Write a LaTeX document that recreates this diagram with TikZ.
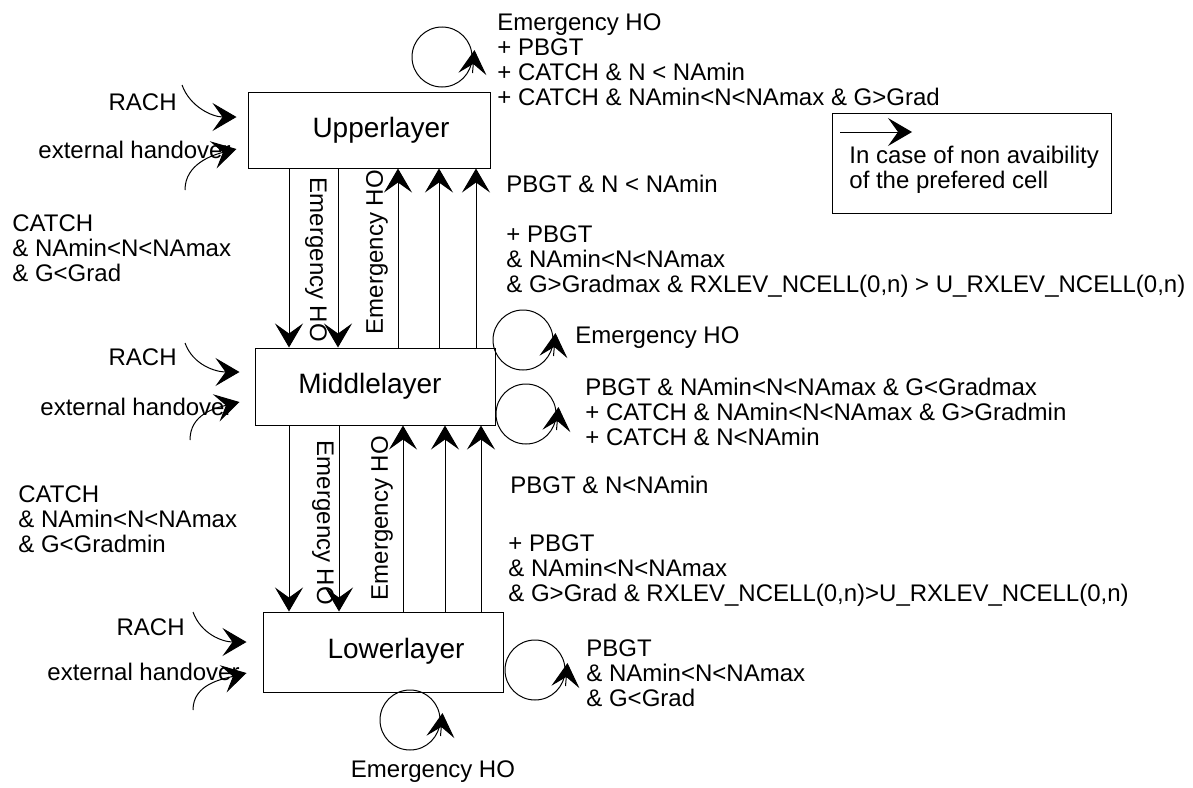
\documentclass[tikz,border=0pt]{standalone}
\usepackage{fontspec}
\setmainfont{Liberation Sans}
\usetikzlibrary{arrows.meta,calc}

\begin{document}
\begin{tikzpicture}[x=0.5pt, y=-0.5pt,
  every node/.style={font=\fontsize{12}{12.5}\selectfont, inner sep=0pt},
  layer/.style={draw, line width=0.5pt},
  lyrtext/.style={font=\fontsize{14}{16}\selectfont},
  cond/.style={anchor=west, align=left},
  loopc/.style={draw, circle, line width=0.5pt, minimum size=30pt},
  flow/.style={-{Stealth[length=12pt,width=14pt,inset=5pt]}, line width=0.5pt}]
\useasboundingbox (0,0) rectangle (1193,787);

% layers
\node[layer, minimum width=121pt, minimum height=38pt] (upper) at (369,130) {};
\node[layer, minimum width=120pt, minimum height=38.5pt] (middle) at (375,386.5) {};
\node[layer, minimum width=120pt, minimum height=40pt] (lower) at (383,652) {};
\node[lyrtext] (upperTxt) at (381,130) {Upperlayer};
\node[lyrtext] (middleTxt) at (370,386) {Middlelayer};
\node[lyrtext] (lowerTxt) at (396,651) {Lowerlayer};

% vertical handovers
\coordinate (dn1) at (289,0); \coordinate (dn2) at (338,0);
\coordinate (up1) at (398,0); \coordinate (up2) at (439,0); \coordinate (up3) at (476,0);
\coordinate (dl1) at (289,0); \coordinate (dl2) at (339,0);
\coordinate (ul1) at (403,0); \coordinate (ul2) at (445,0); \coordinate (ul3) at (481,0);
\foreach \c in {dn1,dn2} \draw[flow] (upper.south -| \c) -- (middle.north -| \c);
\foreach \c in {up1,up2,up3} \draw[flow] (middle.north -| \c) -- (upper.south -| \c);
\foreach \c in {dl1,dl2} \draw[flow] (middle.south -| \c) -- (lower.north -| \c);
\foreach \c in {ul1,ul2,ul3} \draw[flow] (lower.north -| \c) -- (middle.south -| \c);
\node[rotate=-90] (ehoDnA) at (316,260) {Emergency HO};
\node[rotate=90] (ehoUpA) at (377,252) {Emergency HO};
\node[rotate=-90] (ehoDnB) at (323,523) {Emergency HO};
\node[rotate=90] (ehoUpB) at (382,518) {Emergency HO};

% loops
\node[loopc] (upLoop) at (442,57) {};
\node[loopc] (midLoopA) at (523,340) {};
\node[loopc] (midLoopB) at (526,414) {};
\node[loopc] (lowLoopA) at (535,670) {};
\node[loopc] (lowLoopB) at (410,720) {};
\foreach \n in {upLoop,midLoopA,midLoopB,lowLoopA,lowLoopB}
  \draw[flow] ([yshift=-8pt]\n.east) -- ([xshift=1pt,yshift=3.5pt]\n.east);

% incoming traffic
\coordinate (upRachS) at (182,85); \coordinate (upExtS) at (185,190);
\coordinate (midRachS) at (185,343); \coordinate (midExtS) at (190,440);
\coordinate (lowRachS) at (193,612); \coordinate (lowExtS) at (193,710);
\draw[flow] (upRachS) .. controls +(8,22) and +(-24,0) .. ($(upper.west)+(-11,-13)$);
\draw[flow] (upExtS) .. controls +(0,-26) and +(-24,6) .. ($(upper.west)+(-11,19)$);
\draw[flow] (midRachS) .. controls +(8,22) and +(-24,0) .. ($(middle.west)+(-15,-14.5)$);
\draw[flow] (midExtS) .. controls +(0,-26) and +(-24,6) .. ($(middle.west)+(-15,15.5)$);
\draw[flow] (lowRachS) .. controls +(8,22) and +(-24,0) .. ($(lower.west)+(-16,-10)$);
\draw[flow] (lowExtS) .. controls +(0,-26) and +(-24,6) .. ($(lower.west)+(-16,21)$);
\node[anchor=east] (upRach) at (177,102) {RACH};
\node[anchor=east] (upExt) at (231,150) {external handover};
\node[anchor=east] (midRach) at (177,357) {RACH};
\node[anchor=east] (midExt) at (233,407) {external handover};
\node[anchor=east] (lowRach) at (185,627) {RACH};
\node[anchor=east] (lowExt) at (240,672) {external handover};

% conditions
\node[cond] (upCond) at (497,59.5) {Emergency HO\\+ PBGT\\+ CATCH \& N < NAmin\\+ CATCH \& NAmin<N<NAmax \& G>Grad};
\node[cond] (upPbgt) at (506,184) {PBGT \& N < NAmin};
\node[cond] (upPlus) at (506,262) {+ PBGT\\\& NAmin<N<NAmax\\\& G>Gradmax \& RXLEV\_NCELL(0,n) > U\_RXLEV\_NCELL(0,n)};
\node[cond] (midEmerg) at (575,338) {Emergency HO};
\node[cond] (midCond) at (585,412) {PBGT \& NAmin<N<NAmax \& G<Gradmax\\+ CATCH \& NAmin<N<NAmax \& G>Gradmin\\+ CATCH \& N<NAmin};
\node[cond] (midPbgt) at (510,485) {PBGT \& N<NAmin};
\node[cond] (lowPlus) at (508,571) {+ PBGT\\\& NAmin<N<NAmax\\\& G>Grad \& RXLEV\_NCELL(0,n)>U\_RXLEV\_NCELL(0,n)};
\node[cond] (lowCond) at (586,673) {PBGT\\\& NAmin<N<NAmax\\\& G<Grad};
\node (lowEmerg) at (433,772) {Emergency HO};
\node[cond] (leftUp) at (12,248) {CATCH\\\& NAmin<N<NAmax\\\& G<Grad};
\node[cond] (leftMid) at (18,519) {CATCH\\\& NAmin<N<NAmax\\\& G<Gradmin};

% legend
\node[draw, line width=0.5pt, minimum width=139.5pt, minimum height=50pt] (legend) at (971.5,163) {};
\coordinate (legA) at (840,132); \coordinate (legB) at (912,132);
\draw[flow] (legA) -- (legB);
\node[cond] (legTxt) at (849,169.5) {In case of non avaibility\\of the prefered cell};
\end{tikzpicture}
\end{document}
